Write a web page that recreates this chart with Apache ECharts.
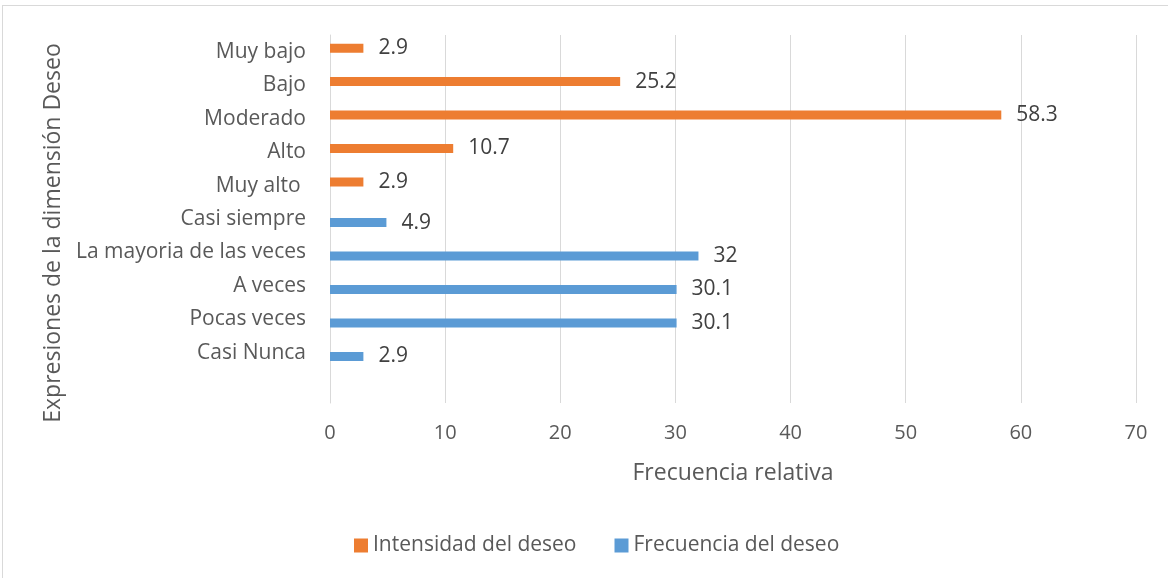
<!DOCTYPE html>
<html><head><meta charset="utf-8">
<script src="https://cdn.jsdelivr.net/npm/echarts@6/dist/echarts.min.js"></script>
<style>
html,body{margin:0;padding:0;background:#fff;overflow:hidden;}
#frame{position:absolute;left:2px;top:5px;width:1200px;height:600px;border:1px solid #d9d9d9;box-sizing:border-box;}
#c{position:absolute;left:0;top:0;width:1168px;height:578px;}
</style></head>
<body>
<div id="frame"></div>
<div id="c"></div>
<script>
const categories = ['', 'Casi Nunca', 'Pocas veces', 'A veces', 'La mayoria de las veces', 'Casi siempre', 'Muy alto ', 'Alto', 'Moderado', 'Bajo', 'Muy bajo'];
const intensidad = [null, null, null, null, null, null, 2.9, 10.7, 58.3, 25.2, 2.9];
const frecuencia = [null, 2.9, 30.1, 30.1, 32, 4.9, null, null, null, null, null];
const seriesNames = ['Intensidad del deseo', 'Frecuencia del deseo'];
const xTicks = {min: 0, max: 70, interval: 10};

const font = 'Open Sans';
const chart = echarts.init(document.getElementById('c'));
const labelCfg = {show: true, position: 'right', distance: 15, color: '#404040', fontSize: 21, fontFamily: font};
chart.setOption({
  animation: false,
  grid: {left: 330, right: 32, top: 35, bottom: 175, containLabel: false},
  legend: {
    data: seriesNames, top: 535, left: 354, padding: 0, itemWidth: 14, itemHeight: 14, itemGap: 38,
    icon: 'rect', textStyle: {color: '#595959', fontSize: 21, fontFamily: font, padding: [0, 0, 0, 0]}
  },
  xAxis: {
    type: 'value', min: xTicks.min, max: xTicks.max, interval: xTicks.interval,
    axisLine: {show: false}, axisTick: {show: false},
    splitLine: {lineStyle: {color: '#d9d9d9', width: 1}},
    axisLabel: {color: '#595959', fontSize: 20, fontFamily: font, margin: 20},
    name: 'Frecuencia relativa', nameLocation: 'middle', nameGap: 59,
    nameTextStyle: {color: '#595959', fontSize: 23, fontFamily: font}
  },
  yAxis: {
    type: 'category', data: categories,
    axisLine: {show: true, lineStyle: {color: '#d9d9d9', width: 1}},
    axisTick: {show: false},
    axisLabel: {color: '#595959', fontSize: 21, fontFamily: font, margin: 24},
    name: 'Expresiones de la dimensión Deseo', nameLocation: 'middle', nameGap: 253,
    nameTextStyle: {color: '#595959', fontSize: 23, fontFamily: font, padding: [0, 28, 0, 0]}
  },
  series: [
    {name: seriesNames[0], type: 'bar', data: intensidad, barWidth: 9, barGap: '-20%',
     itemStyle: {color: '#ED7D31'}, label: labelCfg},
    {name: seriesNames[1], type: 'bar', data: frecuencia, barWidth: 9, barGap: '-20%',
     itemStyle: {color: '#5B9BD5'}, label: labelCfg}
  ]
});
</script>
</body></html>
